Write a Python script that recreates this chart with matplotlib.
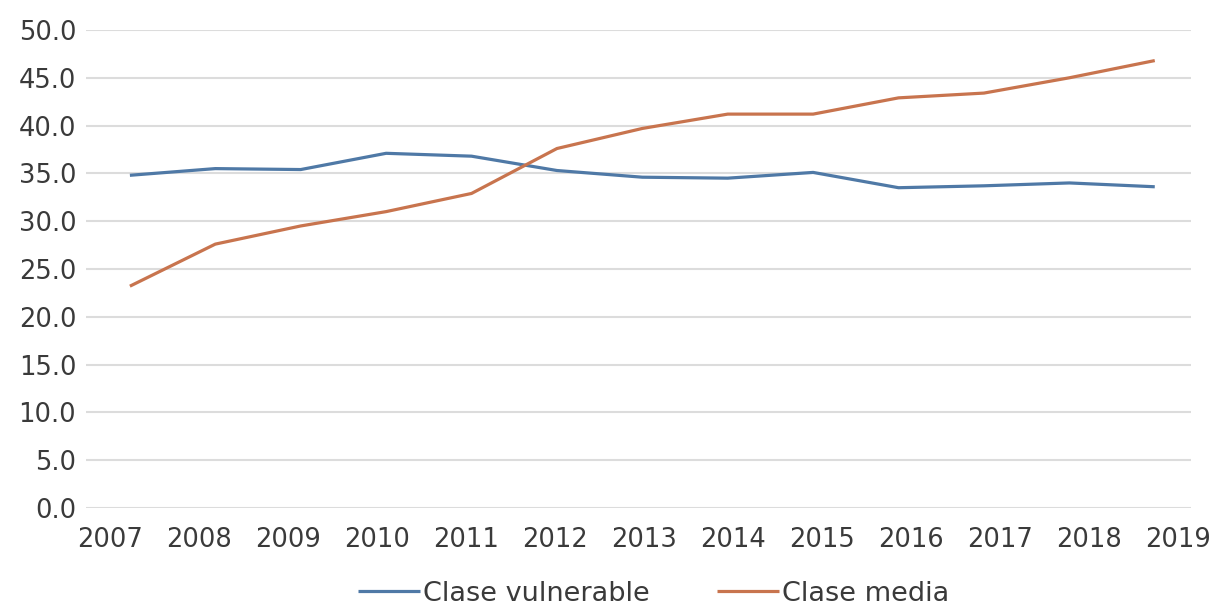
import matplotlib.pyplot as plt
import numpy as np

plt.rcParams['font.family'] = ['DejaVu Sans']

years = ['2007', '2008', '2009', '2010', '2011', '2012', '2013',
         '2014', '2015', '2016', '2017', '2018', '2019']
vulnerable = [34.8, 35.5, 35.4, 37.1, 36.8, 35.3, 34.6, 34.5, 35.1, 33.5, 33.7, 34.0, 33.6]
media = [23.2, 27.6, 29.5, 31.0, 32.9, 37.6, 39.7, 41.2, 41.2, 42.9, 43.4, 45.0, 46.8]

blue = '#4f79a6'
orange = '#c8744e'

fig = plt.figure(figsize=(12.1, 6.12), dpi=100)
ax = fig.add_axes([0.071, 0.170, 0.913, 0.781])

x = np.arange(len(years))
ax.plot(x, vulnerable, color=blue, lw=2.3, label='Clase vulnerable', solid_capstyle='butt')
ax.plot(x, media, color=orange, lw=2.3, label='Clase media', solid_capstyle='butt')

ax.set_ylim(0, 50)
ax.set_xlim(-0.515, 12.42)
ax.set_yticks(np.arange(0, 51, 5))
ax.set_yticklabels([f'{v:.1f}' for v in np.arange(0, 51, 5)])
# year labels sit on a slightly wider spacing than the data points
ax.set_xticks(np.linspace(-0.23, 12.27, len(years)))
ax.set_xticklabels(years)

ax.grid(axis='y', color='#dcdcdc', lw=1.5)
ax.set_axisbelow(True)
for s in ax.spines.values():
    s.set_visible(False)
ax.tick_params(length=0, labelsize=18.5, colors='#3a3a3a')
ax.tick_params(axis='x', pad=14)
ax.tick_params(axis='y', pad=7)

fig.legend(loc='center', bbox_to_anchor=(0.54, 0.03), ncol=2, frameon=False,
           fontsize=19.5, handlelength=2.3, handletextpad=0.1, columnspacing=2.5,
           labelcolor='#3a3a3a', borderpad=0.1)

fig.savefig('out.png', dpi=100, facecolor='white')
